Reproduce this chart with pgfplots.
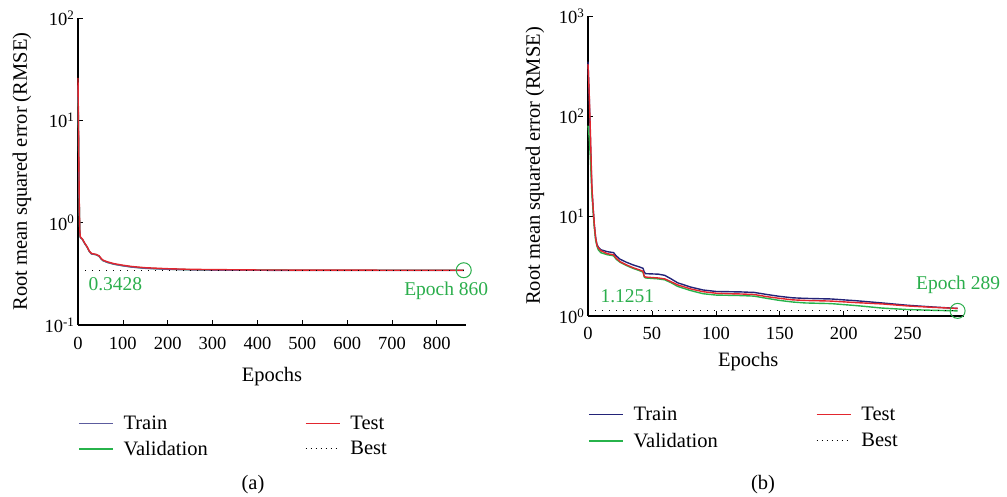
\documentclass[border=0pt]{standalone}
\usepackage{fontspec}
\setmainfont{Liberation Serif}
\usepackage{pgfplots}
\pgfplotsset{compat=1.18}
\definecolor{trainA}{HTML}{5C5C9E}
\definecolor{trainB}{HTML}{232378}
\definecolor{testc}{HTML}{E2262E}
\definecolor{valc}{HTML}{27B34B}
\definecolor{labg}{HTML}{2BAE4C}

\pgfplotstableread{
x y
0 22
1 9
2 3.2
3 1.3
4 0.82
5 0.72
10 0.685
15 0.625
20 0.58
25 0.525
30 0.495
40 0.487
47 0.47
52 0.44
56 0.425
65 0.41
80 0.393
100 0.379
120 0.368
150 0.358
200 0.35
250 0.346
300 0.344
400 0.3425
500 0.342
600 0.342
700 0.342
860 0.342
}\trainAtab

\pgfplotstableread{
x y
0 26
1 10
2 3.5
3 1.4
4 0.85
5 0.73
10 0.69
15 0.63
20 0.585
25 0.53
30 0.5
40 0.49
47 0.475
52 0.445
56 0.43
65 0.415
80 0.398
100 0.384
120 0.373
150 0.363
200 0.355
250 0.35
300 0.348
400 0.345
500 0.344
600 0.3435
700 0.343
860 0.343
}\testAtab

\pgfplotstableread{
x y
0 20
1 8.5
2 3.1
3 1.3
4 0.82
5 0.72
10 0.685
15 0.625
20 0.58
25 0.525
30 0.495
40 0.487
47 0.47
52 0.44
56 0.425
65 0.41
80 0.393
100 0.38
120 0.369
150 0.359
200 0.351
250 0.347
300 0.345
400 0.3435
500 0.343
600 0.3428
700 0.3428
860 0.3428
}\valAtab

\pgfplotstableread{
x y
0 350
1 150
2 50
3 19
4 12
5 8
6 6
7 5.2
8 4.9
10 4.6
15 4.4
20 4.3
22 4.0
25 3.7
30 3.45
35 3.25
40 3.1
43 3.0
44 2.75
45 2.65
55 2.62
60 2.55
65 2.35
70 2.15
80 1.95
90 1.82
100 1.76
110 1.75
120 1.74
130 1.72
140 1.64
150 1.57
160 1.52
170 1.50
190 1.48
210 1.42
230 1.35
250 1.28
270 1.23
289 1.19
}\trainBtab

\pgfplotstableread{
x y
0 330
1 160
2 60
3 20
4 12
5 8
6 6
7 5.1
8 4.8
10 4.5
15 4.2
20 4.1
22 3.8
25 3.5
30 3.25
35 3.05
40 2.9
43 2.8
44 2.5
45 2.45
55 2.4
60 2.35
65 2.2
70 2.05
80 1.87
90 1.75
100 1.69
110 1.67
120 1.66
130 1.64
140 1.56
150 1.50
160 1.45
170 1.43
190 1.41
210 1.36
230 1.32
250 1.26
270 1.22
289 1.19
}\testBtab

\pgfplotstableread{
x y
0 80
1 60
2 35
3 17
4 11
5 7.5
6 5.7
7 5.0
8 4.6
10 4.3
15 4.1
20 4.0
22 3.7
25 3.45
30 3.2
35 3.0
40 2.85
43 2.75
44 2.45
45 2.4
55 2.35
60 2.3
65 2.15
70 1.98
80 1.8
90 1.67
100 1.62
110 1.61
120 1.6
130 1.58
140 1.5
150 1.43
160 1.38
170 1.35
190 1.33
210 1.27
230 1.2
250 1.16
270 1.14
289 1.1251
}\valBtab

\begin{document}
\begin{tikzpicture}[x=1pt,y=1pt]
\useasboundingbox (0,0) rectangle (1007,497);

% Panel (a)
\begin{axis}[
  scale only axis,
  axis x line*=bottom, axis y line*=left,
  ymode=log, log basis y=10,
  tick align=inside,
  major tick length=5pt, minor tick length=3pt,
  every tick/.style={black, line width=0.7pt},
  axis line style={black, line width=1.2pt},
  tick label style={font=\fontsize{18.5}{21}\selectfont},
  xticklabel style={yshift=-9pt},
  label style={font=\fontsize{20.5}{24}\selectfont},
  ylabel={Root mean squared error (RMSE)},
  xlabel={Epochs},
  clip=false,
  legend columns=2,
  legend cell align=left,
  legend style={draw=none, fill=none, inner sep=0pt, outer sep=0pt,
    font=\fontsize{20.5}{24}\selectfont,
    row sep=6pt,
    /tikz/every odd column/.append style={column sep=8pt},
    /tikz/every even column/.append style={column sep=95pt},
    at={(axis description cs:0,0)}, anchor=north west, yshift=-89pt},
  legend image code/.code={\draw[#1] (0pt,0pt) -- (34pt,0pt);},
  at={(78pt,172pt)}, anchor=south west,
  width=388pt, height=307pt,
  xmin=0, xmax=865, ymin=0.1, ymax=100,
  xtick={0,100,200,300,400,500,600,700,800},
  xticklabels={0,100,200,300,400,500,600,700,800},
  ytick={0.1,1,10,100},
  yticklabels={10\textsuperscript{-1},10\textsuperscript{0},10\textsuperscript{1},10\textsuperscript{2}},
  xlabel style={at={(axis description cs:0.5,0)}, anchor=center, yshift=-52pt},
  ylabel style={at={(axis description cs:-0.1443,0.5)}, anchor=center},
]
\addlegendimage{trainA, line width=1.6pt}
\addlegendentry{Train}
\addlegendimage{testc, line width=1.6pt}
\addlegendentry{Test}
\addlegendimage{valc, line width=1.6pt}
\addlegendentry{Validation}
\addlegendimage{black, line width=0.9pt, dash pattern=on 1pt off 4pt}
\addlegendentry{Best}
\addplot[valc, line width=1.4pt, forget plot] table {\valAtab};
\addplot[trainA, line width=1.4pt, forget plot] table {\trainAtab};
\addplot[testc, line width=1.4pt, forget plot] table {\testAtab};
\addplot[black, line width=1pt, dash pattern=on 1pt off 6pt, forget plot] coordinates {(0,0.3428) (860,0.3428)};
\addplot[labg, only marks, mark=o, mark size=7.5pt, mark options={line width=1pt}, forget plot] coordinates {(860,0.3428)};
\node[labg, anchor=base west, font=\fontsize{19.5}{22}\selectfont] at (axis cs:0,0.3428) [xshift=7pt, yshift=-20pt] {0.3428};
\node[labg, anchor=base east, font=\fontsize{19.5}{22}\selectfont] at (axis cs:860,0.3428) [xshift=28pt, yshift=-25pt] {Epoch 860};
\end{axis}

% Panel (b)
\begin{axis}[
  scale only axis,
  axis x line*=bottom, axis y line*=left,
  ymode=log, log basis y=10,
  tick align=inside,
  major tick length=5pt, minor tick length=3pt,
  every tick/.style={black, line width=0.7pt},
  axis line style={black, line width=1.2pt},
  tick label style={font=\fontsize{18.5}{21}\selectfont},
  xticklabel style={yshift=-8pt},
  label style={font=\fontsize{20.5}{24}\selectfont},
  ylabel={Root mean squared error (RMSE)},
  xlabel={Epochs},
  clip=false,
  legend columns=2,
  legend cell align=left,
  legend style={draw=none, fill=none, inner sep=0pt, outer sep=0pt,
    font=\fontsize{20.5}{24}\selectfont,
    row sep=7pt,
    /tikz/every odd column/.append style={column sep=8pt},
    /tikz/every even column/.append style={column sep=96pt},
    at={(axis description cs:0,0)}, anchor=north west, yshift=-89pt},
  legend image code/.code={\draw[#1] (0pt,0pt) -- (34pt,0pt);},
  at={(588pt,181pt)}, anchor=south west,
  width=376pt, height=300pt,
  xmin=0, xmax=294, ymin=1, ymax=1000,
  xtick={0,50,100,150,200,250},
  xticklabels={0,50,100,150,200,250},
  ytick={1,10,100,1000},
  yticklabels={10\textsuperscript{0},10\textsuperscript{1},10\textsuperscript{2},10\textsuperscript{3}},
  xlabel style={at={(axis description cs:0.426,0)}, anchor=center, yshift=-46pt},
  ylabel style={at={(axis description cs:-0.141,0.5)}, anchor=center},
]
\addlegendimage{trainB, line width=1.6pt}
\addlegendentry{Train}
\addlegendimage{testc, line width=1.6pt}
\addlegendentry{Test}
\addlegendimage{valc, line width=1.6pt}
\addlegendentry{Validation}
\addlegendimage{black, line width=0.9pt, dash pattern=on 1pt off 4pt}
\addlegendentry{Best}
\addplot[trainB, line width=1.4pt, forget plot] table {\trainBtab};
\addplot[valc, line width=1.4pt, forget plot] table {\valBtab};
\addplot[testc, line width=1.4pt, forget plot] table {\testBtab};
\addplot[black, line width=1pt, dash pattern=on 1pt off 6pt, forget plot] coordinates {(0,1.1251) (289,1.1251)};
\addplot[labg, only marks, mark=o, mark size=7.5pt, mark options={line width=1pt}, forget plot] coordinates {(289,1.1251)};
\node[labg, anchor=base west, font=\fontsize{19.5}{22}\selectfont] at (axis cs:0,1.1251) [xshift=9pt, yshift=8pt] {1.1251};
\node[labg, anchor=base east, font=\fontsize{19.5}{22}\selectfont] at (axis cs:289,1.1251) [xshift=46pt, yshift=21pt] {Epoch 289};
\end{axis}

\node[font=\fontsize{20.5}{24}\selectfont] at (253,12) {(a)};
\node[font=\fontsize{20.5}{24}\selectfont] at (763,12) {(b)};
\end{tikzpicture}
\end{document}
